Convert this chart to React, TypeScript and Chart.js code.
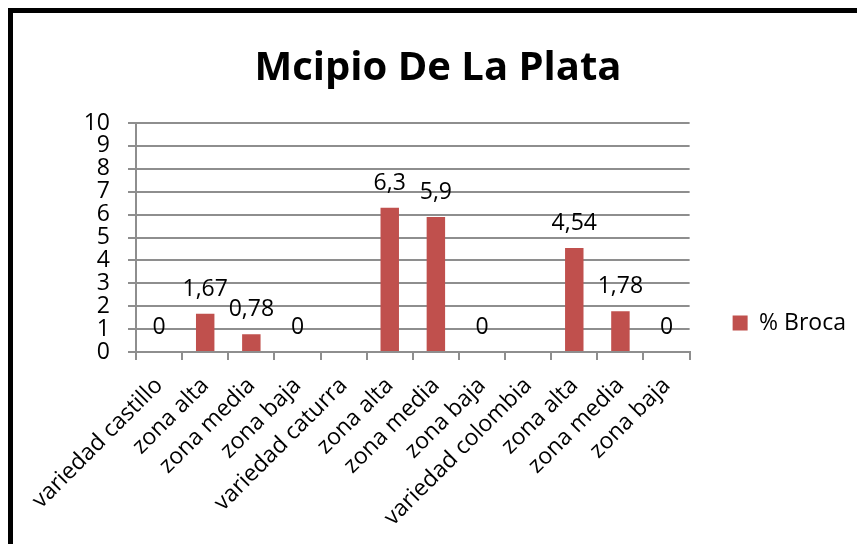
import React, { useEffect, useRef } from "react";
import { Chart, registerables } from "chart.js";

Chart.register(...registerables);

const chartTitle = "Mcipio De La Plata";
const seriesLabel = "% Broca";
const categories = [
  "variedad castillo",
  "zona alta",
  "zona media",
  "zona baja",
  "variedad caturra",
  "zona alta",
  "zona media",
  "zona baja",
  "variedad colombia",
  "zona alta",
  "zona media",
  "zona baja",
];
const brocaValues: (number | null)[] = [0, 1.67, 0.78, 0, null, 6.3, 5.9, 0, null, 4.54, 1.78, 0];
const yMin = 0;
const yMax = 10;
const yStep = 1;

const FONT = "'Open Sans'";
const GRID = "#8e8e8e";
const BAR = "#C0504D";

const dataLabels = {
  id: "dataLabels",
  afterDatasetsDraw(chart: any) {
    const ctx = chart.ctx;
    const meta = chart.getDatasetMeta(0);
    ctx.save();
    ctx.font = `23px ${FONT}`;
    ctx.fillStyle = "#000";
    ctx.textAlign = "center";
    ctx.textBaseline = "alphabetic";
    meta.data.forEach((bar: any, i: number) => {
      const v = brocaValues[i];
      if (v === null || v === undefined) return;
      ctx.fillText(String(v).replace(".", ","), bar.x, bar.y - 18);
    });
    ctx.restore();
  },
};

export default function App() {
  const ref = useRef<HTMLCanvasElement | null>(null);

  useEffect(() => {
    if (!ref.current) return;
    const chart = new Chart(ref.current, {
      type: "bar",
      data: {
        labels: categories,
        datasets: [
          {
            label: seriesLabel,
            data: brocaValues,
            backgroundColor: BAR,
            borderWidth: 0,
            barPercentage: 0.4,
            categoryPercentage: 1,
          },
        ],
      },
      options: {
        responsive: false,
        animation: false,
        devicePixelRatio: 1,
        layout: { padding: { left: 7, right: 7, top: 0, bottom: 0 } },
        plugins: {
          title: {
            display: true,
            text: chartTitle,
            color: "#000",
            font: { family: FONT, size: 40, weight: "bold", lineHeight: 1.2 },
            padding: { top: 32, bottom: 30 },
          },
          legend: {
            display: true,
            position: "right",
            align: "center",
            labels: {
              boxWidth: 15,
              boxHeight: 15,
              padding: 43,
              color: "#000",
              font: { family: FONT, size: 23 },
            },
          },
          tooltip: { enabled: false },
        },
        scales: {
          x: {
            offset: true,
            grid: {
              offset: true,
              drawOnChartArea: false,
              drawTicks: true,
              tickLength: 8,
              color: GRID,
              lineWidth: 2,
            },
            border: { color: GRID, width: 2 },
            ticks: {
              autoSkip: false,
              maxRotation: 45,
              minRotation: 45,
              padding: 12,
              color: "#000",
              font: { family: FONT, size: 23 },
            },
            afterFit: (scale: any) => {
              scale.height = 281;
            },
          },
          y: {
            min: yMin,
            max: yMax,
            grid: {
              color: GRID,
              lineWidth: 2,
              tickLength: 8,
            },
            border: { color: GRID, width: 2 },
            ticks: {
              stepSize: yStep,
              autoSkip: false,
              padding: 18,
              color: "#000",
              font: { family: FONT, size: 23 },
            },
            afterFit: (scale: any) => {
              scale.width = 116;
            },
          },
        },
      },
      plugins: [dataLabels],
    });
    return () => chart.destroy();
  }, []);

  return (
    <div style={{ position: "fixed", left: 0, top: 0, right: 0, bottom: 0, overflow: "hidden", background: "#fff" }}>
      <div
        style={{
          position: "absolute",
          left: 8,
          top: 8,
          width: 850,
          height: 620,
          border: "5px solid #000",
          background: "#fff",
        }}
      >
        <canvas ref={ref} width={850} height={620} style={{ display: "block", width: 850, height: 620 }} />
      </div>
    </div>
  );
}
